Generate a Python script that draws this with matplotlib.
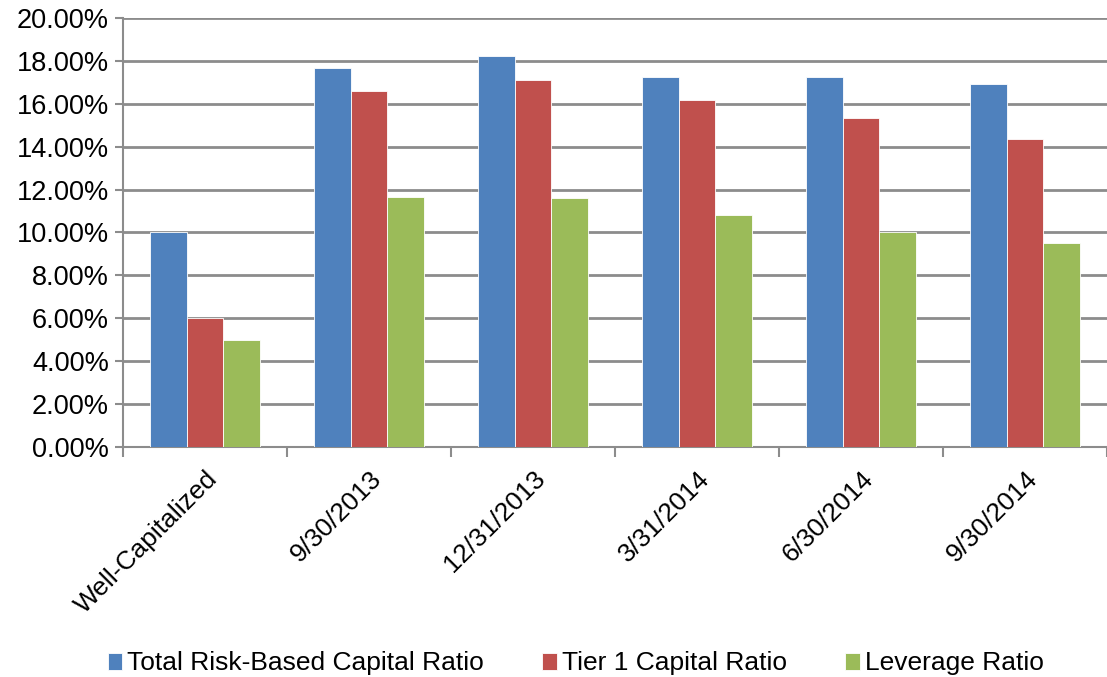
import numpy as np
from matplotlib import pyplot as plt
from matplotlib.ticker import FuncFormatter

plt.rcParams['font.family'] = ['Liberation Sans', 'DejaVu Sans']

categories = ["Well-Capitalized", "9/30/2013", "12/31/2013", "3/31/2014", "6/30/2014", "9/30/2014"]
total_risk = [10.00, 17.65, 18.21, 17.26, 17.24, 16.93]
tier1 = [6.00, 16.60, 17.10, 16.20, 15.35, 14.36]
leverage = [5.00, 11.64, 11.59, 10.83, 10.03, 9.49]

series = [("Total Risk-Based Capital Ratio", total_risk, "#4F81BD"),
          ("Tier 1 Capital Ratio", tier1, "#C0504D"),
          ("Leverage Ratio", leverage, "#9BBB59")]

fig = plt.figure(figsize=(11.07, 6.77), dpi=100)
ax = fig.add_axes([123/1107, 1 - 447/677, 1 - 123/1107, (447 - 18)/677])

x = np.arange(len(categories))
w = 0.224
for i, (name, vals, col) in enumerate(series):
    ax.bar(x + (i - 1) * w, vals, w, color=col, edgecolor="white", linewidth=0.6,
           label=name, zorder=3)

ax.set_ylim(0, 20)
ax.set_yticks(np.arange(0, 21, 2))
ax.yaxis.set_major_formatter(FuncFormatter(lambda v, p: "%.2f%%" % v))
ax.grid(axis="y", color="#8c8c8c", linewidth=2, zorder=0)
ax.set_xlim(-0.5, 5.47)

# tick marks between groups, labels at group centres
ax.set_xticks(np.arange(-0.5, 6, 1))
ax.set_xticklabels([])
ax.set_xticks(x, minor=True)
ax.set_xticklabels(categories, minor=True, rotation=45, ha="right",
                   rotation_mode="anchor", fontsize=19)
ax.tick_params(axis="x", which="minor", length=0, pad=14)
ax.tick_params(axis="x", which="major", length=7, width=1.5, color="#8c8c8c")
ax.tick_params(axis="y", length=6, width=1.5, color="#8c8c8c", labelsize=19.5, pad=4)

for s in ["top", "right"]:
    ax.spines[s].set_visible(False)
for s in ["left", "bottom"]:
    ax.spines[s].set_color("#8c8c8c")
    ax.spines[s].set_linewidth(1.5)

fig.legend(loc="center", bbox_to_anchor=(0.52, 0.02), ncol=3, frameon=False,
           fontsize=19, handlelength=0.55, handleheight=0.6, handletextpad=0.2,
           columnspacing=2.2)

fig.savefig("out.png", dpi=100)
